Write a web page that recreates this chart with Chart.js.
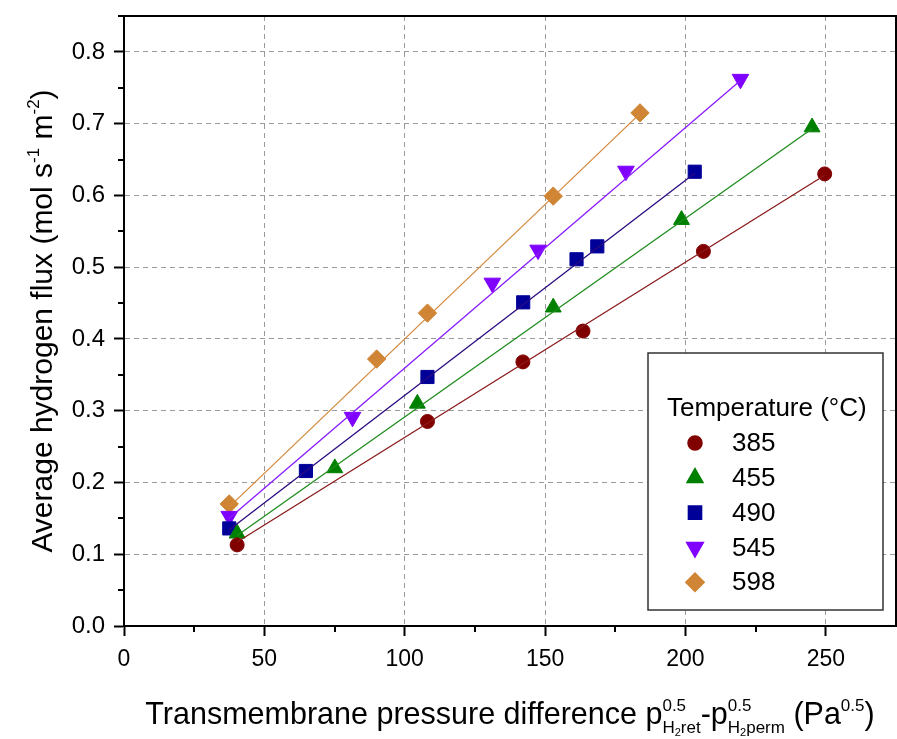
<!DOCTYPE html>
<html><head><meta charset="utf-8">
<script src="https://cdn.jsdelivr.net/npm/chart.js@4.4.0/dist/chart.umd.min.js"></script>
<style>html,body{margin:0;padding:0;background:#fff;overflow:hidden}canvas{display:block}</style>
</head><body>
<canvas id="c" width="897" height="739"></canvas>
<script>
// ---- data ----
const temperatures = ['385', '455', '490', '545', '598'];

const x385 = [40.3, 108.1, 142.1, 163.5, 206.4, 249.6];
const y385 = [0.113, 0.285, 0.368, 0.411, 0.522, 0.630];
const x455 = [40.3, 75.1, 104.5, 152.9, 198.6, 245.1];
const y455 = [0.129, 0.220, 0.310, 0.444, 0.566, 0.695];
const x490 = [37.5, 64.8, 108.1, 142.2, 161.2, 168.6, 203.3];
const y490 = [0.136, 0.216, 0.347, 0.451, 0.511, 0.529, 0.633];
const x545 = [37.5, 81.4, 131.2, 147.5, 178.8, 219.6];
const y545 = [0.153, 0.291, 0.478, 0.524, 0.634, 0.762];
const x598 = [37.5, 90.0, 108.1, 152.9, 183.8];
const y598 = [0.170, 0.372, 0.436, 0.599, 0.715];

// fitted lines (endpoints)
const fitX385 = [40.3, 249.6], fitY385 = [0.117, 0.628];
const fitX455 = [40.3, 245.1], fitY455 = [0.126, 0.693];
const fitX490 = [37.5, 203.3], fitY490 = [0.134, 0.631];
const fitX545 = [37.5, 219.6], fitY545 = [0.150, 0.760];
const fitX598 = [37.5, 183.8], fitY598 = [0.166, 0.714];

const xMin = 0, xMax = 275, xStep = 50, xMinor = 25;
const yMin = 0, yMax = 0.85, yStep = 0.1, yMinor = 0.05;

// ---- styling ----
const FF = '"Liberation Sans", Arial, sans-serif';
const markerColors = ['#800000', '#008000', '#000099', '#8000FF', '#D08534'];
const lineColors = ['#8B1A1A', '#1E8C1E', '#2A0A80', '#8A1AFF', '#D4893C'];
const markerStyles = [
  {pointStyle: 'circle', radius: 7, rotation: 0},
  {pointStyle: 'triangle', radius: 9.2, rotation: 0},
  {pointStyle: 'rect', radius: 9.3, rotation: 0},
  {pointStyle: 'triangle', radius: 9.6, rotation: 180},
  {pointStyle: 'rectRot', radius: 9.2, rotation: 0}
];

const pts = (xs, ys) => xs.map((x, i) => ({x: x, y: ys[i]}));
const seriesX = [x385, x455, x490, x545, x598];
const seriesY = [y385, y455, y490, y545, y598];
const fitXs = [fitX385, fitX455, fitX490, fitX545, fitX598];
const fitYs = [fitY385, fitY455, fitY490, fitY545, fitY598];

const datasets = [];
temperatures.forEach((t, i) => {
  datasets.push({
    label: 'fit ' + t, data: pts(fitXs[i], fitYs[i]), showLine: true,
    borderColor: lineColors[i], borderWidth: 1.3, pointRadius: 0, fill: false, isFit: true
  });
});
temperatures.forEach((t, i) => {
  const m = markerStyles[i];
  datasets.push({
    label: t, data: pts(seriesX[i], seriesY[i]), showLine: false,
    pointStyle: m.pointStyle, pointRadius: m.radius, pointRotation: m.rotation,
    backgroundColor: markerColors[i], borderColor: markerColors[i], pointBorderWidth: 1,
    markerIndex: i
  });
});

function keepMajor(step) {
  return scale => {
    scale.ticks = scale.ticks.filter(t => Math.abs(t.value / step - Math.round(t.value / step)) < 1e-6);
  };
}
function noPad(s) { s.paddingLeft = 0; s.paddingRight = 0; s.paddingTop = 0; s.paddingBottom = 0; }

// rich text helpers
function measureSeq(ctx, seq) {
  let w = 0;
  for (const p of seq) {
    if (p.stack) w += Math.max(...p.stack.map(s => measureSeq(ctx, s)));
    else { ctx.font = p.s + 'px ' + FF; w += ctx.measureText(p.t).width; }
  }
  return w;
}
function drawSeq(ctx, seq, x, y) {
  for (const p of seq) {
    if (p.stack) {
      const w = Math.max(...p.stack.map(s => measureSeq(ctx, s)));
      p.stack.forEach(s => drawSeq(ctx, s, x, y));
      x += w;
    } else {
      ctx.font = p.s + 'px ' + FF;
      ctx.fillText(p.t, x, y + (p.dy || 0));
      x += ctx.measureText(p.t).width;
    }
  }
  return x;
}
const T = 30.5, S = 17, SS = 11;
const xTitle = [
  {t: 'Transmembrane pressure difference p', s: T},
  {stack: [[{t: '0.5', s: S, dy: -13}], [{t: 'H', s: S, dy: 9}, {t: '2', s: SS, dy: 12}, {t: 'ret', s: S, dy: 9}]]},
  {t: '-p', s: T},
  {stack: [[{t: '0.5', s: S, dy: -13}], [{t: 'H', s: S, dy: 9}, {t: '2', s: SS, dy: 12}, {t: 'perm', s: S, dy: 9}]]},
  {t: ' (Pa', s: T},
  {t: '0.5', s: S, dy: -13},
  {t: ')', s: T}
];
const yTitle = [
  {t: 'Average hydrogen flux (mol s', s: 30},
  {t: '-1', s: S, dy: -13},
  {t: ' m', s: 30},
  {t: '-2', s: S, dy: -13},
  {t: ')', s: 30}
];

const decor = {
  id: 'decor',
  afterDraw(chart) {
    const ctx = chart.ctx, a = chart.chartArea;
    const xs = chart.scales.x, ys = chart.scales.y;
    ctx.save();
    // minor ticks
    ctx.strokeStyle = '#000'; ctx.lineWidth = 2;
    ctx.beginPath();
    for (let v = xMinor; v < xMax; v += xStep) {
      const px = Math.round(xs.getPixelForValue(v));
      ctx.moveTo(px, a.bottom); ctx.lineTo(px, a.bottom + 6);
    }
    for (let v = yMinor; v < yMax; v += yStep) {
      const py = Math.round(ys.getPixelForValue(v));
      ctx.moveTo(a.left, py); ctx.lineTo(a.left - 6, py);
    }
    ctx.stroke();
    // frame top / right
    ctx.beginPath();
    ctx.moveTo(a.left, a.top); ctx.lineTo(a.right, a.top); ctx.lineTo(a.right, a.bottom);
    ctx.stroke();

    // legend box
    const lx = a.right - 248, ly = a.top + 337, lw = 235, lh = 257;
    ctx.fillStyle = '#fff';
    ctx.fillRect(lx, ly, lw, lh);
    ctx.strokeStyle = '#333'; ctx.lineWidth = 1.5;
    ctx.strokeRect(lx, ly, lw, lh);
    ctx.fillStyle = '#000';
    ctx.textBaseline = 'middle'; ctx.textAlign = 'left';
    ctx.font = '26px ' + FF;
    ctx.fillText('Temperature (\u00B0C)', lx + 19, ly + 56);
    chart.data.datasets.forEach(ds => {
      if (ds.markerIndex === undefined) return;
      const i = ds.markerIndex;
      const cy = ly + 90 + i * 34.8;
      const cx = lx + 47;
      ctx.fillStyle = ds.backgroundColor; ctx.strokeStyle = ds.borderColor;
      Chart.helpers.drawPoint(ctx, {pointStyle: ds.pointStyle, radius: ds.pointRadius, rotation: ds.pointRotation, borderWidth: 1}, cx, cy);
      ctx.fillStyle = '#000';
      ctx.font = '26px ' + FF;
      ctx.fillText(ds.label, lx + 84, cy + 1);
    });

    // axis titles
    ctx.textBaseline = 'alphabetic'; ctx.textAlign = 'left'; ctx.fillStyle = '#000';
    const wx = measureSeq(ctx, xTitle);
    drawSeq(ctx, xTitle, (a.left + a.right) / 2 - wx / 2, 724);
    const wy = measureSeq(ctx, yTitle);
    ctx.translate(52, (a.top + a.bottom) / 2);
    ctx.rotate(-Math.PI / 2);
    drawSeq(ctx, yTitle, -wy / 2, 0);
    ctx.restore();
  }
};

new Chart(document.getElementById('c'), {
  type: 'scatter',
  data: {datasets: datasets},
  plugins: [decor],
  options: {
    responsive: false, animation: false, events: [],
    layout: {autoPadding: false, padding: {top: 16, right: 1, left: 0, bottom: 0}},
    plugins: {legend: {display: false}, tooltip: {enabled: false}},
    scales: {
      x: {
        type: 'linear', min: xMin, max: xMax, position: 'bottom',
        afterBuildTicks: keepMajor(xStep),
        afterFit: s => { s.height = 113; noPad(s); },
        ticks: {stepSize: xStep, color: '#000', font: {family: FF, size: 23}, padding: 10, maxRotation: 0},
        grid: {color: '#9a9a9a', lineWidth: 1, tickLength: 10, tickColor: '#000', tickWidth: 2},
        border: {display: true, color: '#000', width: 2, dash: [5, 4]}
      },
      y: {
        type: 'linear', min: yMin, max: yMax,
        afterBuildTicks: keepMajor(yStep),
        afterFit: s => { s.width = 124; noPad(s); },
        ticks: {stepSize: yStep, color: '#000', font: {family: FF, size: 24}, padding: 9,
          callback: v => Number(v).toFixed(1)},
        grid: {color: '#9a9a9a', lineWidth: 1, tickLength: 10, tickColor: '#000', tickWidth: 2},
        border: {display: true, color: '#000', width: 2, dash: [5, 4]}
      }
    }
  }
});
</script>
</body></html>
